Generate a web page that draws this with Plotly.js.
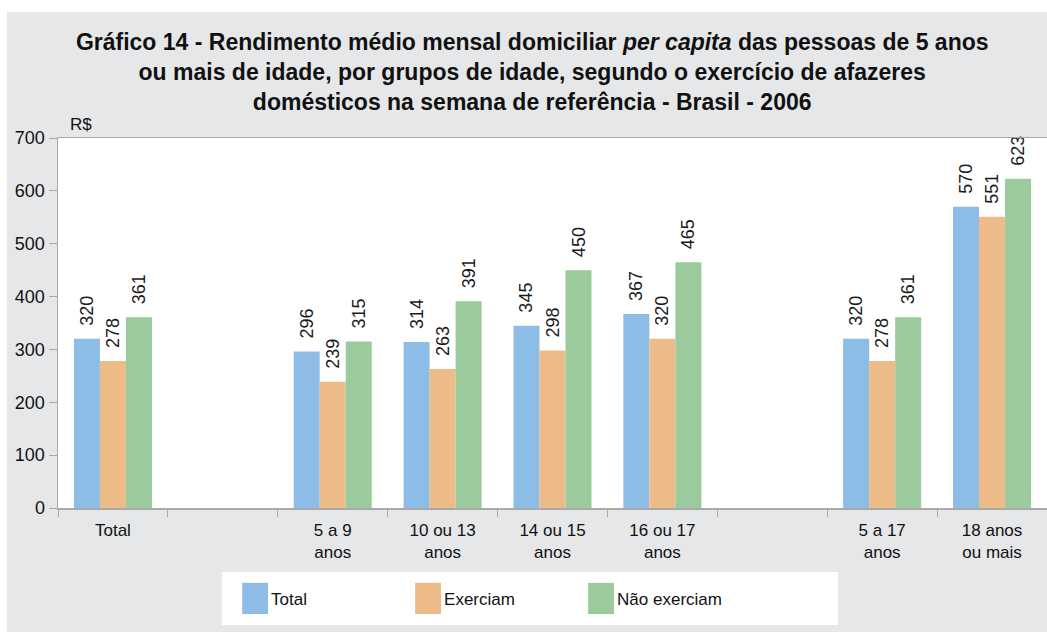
<!DOCTYPE html>
<html>
<head>
<meta charset="utf-8">
<script src="https://cdn.plot.ly/plotly-3.0.1.min.js"></script>
<style>
  html, body { margin: 0; padding: 0; background: #ffffff; width: 1047px; height: 632px; overflow: hidden; }
  #chart { position: absolute; left: 7px; top: 12px; width: 1040px; height: 620px; }
</style>
</head>
<body>
<div id="chart"></div>
<script>
// Categories (two blank slots separate the groups)
const categories = ["Total", " ", "5 a 9<br>anos", "10 ou 13<br>anos", "14 ou 15<br>anos", "16 ou 17<br>anos", "  ", "5 a 17<br>anos", "18 anos<br>ou mais"];
const seriesNames = ["Total", "Exerciam", "Não exerciam"];
const totalValues      = [320, null, 296, 314, 345, 367, null, 320, 570];
const exerciamValues   = [278, null, 239, 263, 298, 320, null, 278, 551];
const naoExerciamValues= [361, null, 315, 391, 450, 465, null, 361, 623];
const yTicks = [0, 100, 200, 300, 400, 500, 600, 700];
const colors = ["#8dbce6", "#ecbb87", "#9bca9c"];

const allValues = [totalValues, exerciamValues, naoExerciamValues];
const FONT = "Liberation Sans, Arial, sans-serif";

const traces = allValues.map((vals, i) => ({
  type: "bar",
  name: seriesNames[i],
  x: categories,
  y: vals,
  marker: { color: colors[i], line: { width: 0 } },
  text: vals.map(v => v === null ? "" : "\u00a0\u00a0" + String(v)),
  textposition: "outside",
  textangle: -90,
  constraintext: "none",
  textfont: { family: FONT, size: 18, color: "#1a1a1a" },
  cliponaxis: false,
  hoverinfo: "x+y"
}));

const layout = {
  width: 1040,
  height: 620,
  paper_bgcolor: "#e6e7e9",
  plot_bgcolor: "#ffffff",
  margin: { l: 51, r: 0, t: 126, b: 124 },
  barmode: "group",
  bargap: 0.29,
  bargroupgap: 0,
  showlegend: true,
  uniformtext: { mode: false },
  title: {
    text: "<b>Gráfico 14 - Rendimento médio mensal domiciliar <i>per capita</i> das pessoas de 5 anos<br>ou mais de idade, por grupos de idade, segundo o exercício de afazeres<br>domésticos na semana de referência - Brasil - 2006</b>",
    font: { family: FONT, size: 23, color: "#111111" },
    x: 0.505, xanchor: "center",
    y: 0.939, yanchor: "middle"
  },
  xaxis: {
    type: "category",
    categoryorder: "array",
    categoryarray: categories,
    tickson: "boundaries",
    ticks: "outside",
    ticklen: 7,
    tickcolor: "#a8a8a8",
    showline: true,
    linecolor: "#a8a8a8",
    linewidth: 1.5,
    mirror: true,
    showgrid: false,
    zeroline: false,
    ticklabelstandoff: 6,
    tickfont: { family: FONT, size: 17, color: "#111111" },
    fixedrange: true
  },
  yaxis: {
    range: [0, 700],
    tickvals: yTicks,
    ticktext: yTicks.map(String),
    ticks: "outside",
    ticklen: 8,
    tickcolor: "#a8a8a8",
    showline: true,
    linecolor: "#a8a8a8",
    linewidth: 1.5,
    showgrid: false,
    zeroline: false,
    tickfont: { family: FONT, size: 18, color: "#111111" },
    fixedrange: true
  },
  legend: {
    orientation: "h",
    x: 0.175, xanchor: "left",
    y: -0.197, yanchor: "top",
    bgcolor: "rgba(0,0,0,0)",
    borderwidth: 0,
    font: { family: FONT, size: 17, color: "#111111" },
    entrywidth: 128,
    entrywidthmode: "pixels",
    itemwidth: 30,
    traceorder: "normal"
  },
  shapes: [{
    type: "rect",
    xref: "paper", yref: "paper",
    x0: 0.1658, x1: 0.7887, y0: -0.3162, y1: -0.173,
    fillcolor: "#ffffff",
    line: { width: 0 },
    layer: "below"
  }],
  annotations: [{
    text: "R$",
    xref: "paper", yref: "paper",
    x: 0.01, y: 1.0, xanchor: "left", yanchor: "bottom",
    yshift: 2,
    showarrow: false,
    font: { family: FONT, size: 17, color: "#111111" }
  }]
};

Plotly.newPlot("chart", traces, layout, { displayModeBar: false, staticPlot: true }).then(gd => {
  gd.querySelectorAll(".legendpoints path").forEach(p => {
    p.setAttribute("transform", "translate(24,0) scale(2.15,2.6)");
  });
});
</script>
</body>
</html>
